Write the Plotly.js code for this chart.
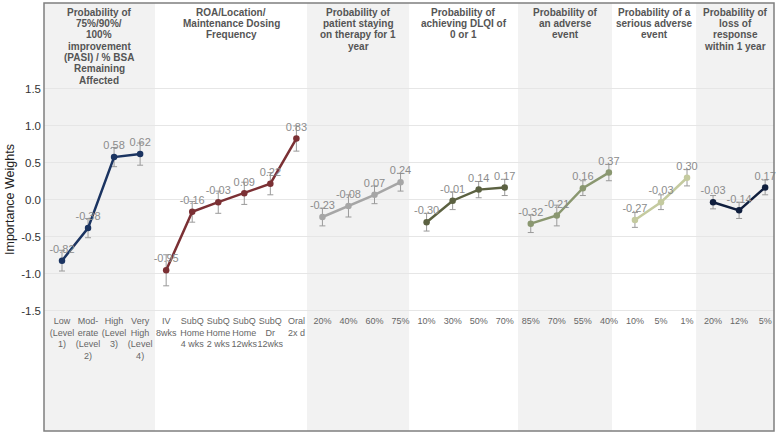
<!DOCTYPE html>
<html>
<head>
<meta charset="utf-8">
<script src="https://cdn.plot.ly/plotly-3.0.1.min.js"></script>
<style>html,body{margin:0;padding:0;background:#fff;}#chart{width:779px;height:433px;}</style>
</head>
<body>
<div id="chart"></div>
<script>
// ---------- data ----------
const headers = [
  ["Probability of", "75%/90%/", "100%", "improvement", "(PASI) / % BSA", "Remaining", "Affected"],
  ["ROA/Location/", "Maintenance Dosing", "Frequency"],
  ["Probability of", "patient staying", "on therapy for 1", "year"],
  ["Probability of", "achieving DLQI of", "0 or 1"],
  ["Probability of", "an adverse", "event"],
  ["Probability of a", "serious adverse", "event"],
  ["Probability of", "loss of", "response", "within 1 year"]
];
const labels1 = ["Low<br>(Level<br>1)", "Mod-<br>erate<br>(Level<br>2)", "High<br>(Level<br>3)", "Very<br>High<br>(Level<br>4)"];
const labels2 = ["IV<br>8wks", "SubQ<br>Home<br>4 wks", "SubQ<br>Home<br>2 wks", "SubQ<br>Home<br>12wks", "SubQ<br>Dr<br>12wks", "Oral<br>2x d"];
const labels3 = ["20%", "40%", "60%", "75%"];
const labels4 = ["10%", "30%", "50%", "70%"];
const labels5 = ["85%", "70%", "55%", "40%"];
const labels6 = ["10%", "5%", "1%"];
const labels7 = ["20%", "12%", "5%"];

const values1 = [-0.82, -0.38, 0.58, 0.62];
const values2 = [-0.95, -0.16, -0.03, 0.09, 0.22, 0.83];
const values3 = [-0.23, -0.08, 0.07, 0.24];
const values4 = [-0.30, -0.01, 0.14, 0.17];
const values5 = [-0.32, -0.21, 0.16, 0.37];
const values6 = [-0.27, -0.03, 0.30];
const values7 = [-0.03, -0.14, 0.17];

const errors1 = [0.14, 0.13, 0.13, 0.15];
const errors2 = [0.21, 0.14, 0.15, 0.15, 0.15, 0.17];
const errors3 = [0.12, 0.15, 0.12, 0.12];
const errors4 = [0.12, 0.12, 0.11, 0.11];
const errors5 = [0.12, 0.14, 0.10, 0.11];
const errors6 = [0.10, 0.10, 0.11];
const errors7 = [0.09, 0.11, 0.10];

const yTicks = [-1.5, -1.0, -0.5, 0.0, 0.5, 1.0, 1.5];

// ---------- styles / layout constants ----------
const colors = ["#1b3461", "#7b3034", "#a6a6a6", "#5b6141", "#8a9770", "#c4ca9f", "#0f1e3d"];
const groups = [
  [labels1, values1, errors1], [labels2, values2, errors2], [labels3, values3, errors3],
  [labels4, values4, errors4], [labels5, values5, errors5], [labels6, values6, errors6],
  [labels7, values7, errors7]
];
const W = 779, H = 433, ML = 44, MR = 5, MT = 3, MB = 2;
const plotH = H - MT - MB;
const py = p => (H - MB - p) / plotH;           // pixel y -> paper y
const xRange = [-0.691, 27.34];
const bandEdges = [xRange[0], 3.57, 9.41, 13.33, 17.51, 21.12, 24.35, xRange[1]];
const yRange = [-3.122, 2.662];
const FONT = "Liberation Sans, Arial, sans-serif";

const traces = [];
const tickvals = [], ticktext = [];
let idx = 0;
groups.forEach((g, gi) => {
  const [lab, val, err] = g;
  const xs = val.map((_, i) => idx + i);
  lab.forEach((l, i) => { tickvals.push(idx + i); ticktext.push(l); });
  traces.push({
    type: "scatter", mode: "lines+markers+text",
    x: xs, y: val,
    text: val.map(v => v.toFixed(2)),
    textposition: "top center",
    textfont: {family: FONT, size: 11, color: "#8c8c8c"},
    line: {color: colors[gi], width: 2.5},
    marker: {color: colors[gi], size: 6.5},
    error_y: {type: "data", array: err, visible: true, color: "#9a9a9a", thickness: 1, width: 3},
    hoverinfo: "skip", showlegend: false, cliponaxis: false
  });
  idx += val.length;
});

const shapes = [];
for (let i = 0; i < 7; i += 2) {
  shapes.push({type: "rect", layer: "below", xref: "x", yref: "paper",
    x0: bandEdges[i], x1: bandEdges[i + 1], y0: 0, y1: 1,
    fillcolor: "#f2f2f2", line: {width: 0}});
}
shapes.push({type: "rect", layer: "above", xref: "paper", yref: "paper",
  x0: 0, x1: 1, y0: 0, y1: 1, fillcolor: "rgba(0,0,0,0)", line: {color: "#7f7f7f", width: 1.5}});

const annotations = [];
headers.forEach((lines, gi) => {
  const cx = (bandEdges[gi] + bandEdges[gi + 1]) / 2;
  lines.forEach((t, li) => {
    annotations.push({xref: "x", yref: "paper", x: cx, y: py(12 + 11.4 * li),
      xanchor: "center", yanchor: "middle", showarrow: false, text: "<b>" + t + "</b>",
      font: {family: FONT, size: 10, color: "#555"}});
  });
});
annotations.push({xref: "paper", yref: "paper", x: (10 - ML) / (W - ML - MR), y: py(200),
  xanchor: "center", yanchor: "middle", textangle: -90, showarrow: false,
  text: "Importance Weights", font: {family: FONT, size: 12.5, color: "#222"}});

const layout = {
  width: W, height: H,
  margin: {l: ML, r: MR, t: MT, b: MB, pad: 0},
  paper_bgcolor: "#fff", plot_bgcolor: "rgba(0,0,0,0)",
  showlegend: false,
  xaxis: {range: xRange, anchor: "free", position: py(311), tickmode: "array",
    tickvals: tickvals, ticktext: ticktext, tickangle: 0, showgrid: false, zeroline: false, showline: false,
    ticks: "", ticklabelstandoff: 3, tickfont: {family: FONT, size: 9, color: "#666"},
    fixedrange: true},
  yaxis: {range: yRange, tickmode: "array", tickvals: yTicks,
    ticktext: yTicks.map(v => v.toFixed(1)), showgrid: true, gridcolor: "#e6e6e6", gridwidth: 1,
    zeroline: false, showline: false, ticks: "", ticklabelstandoff: 2,
    tickfont: {family: FONT, size: 11.5, color: "#333"}, fixedrange: true},
  shapes: shapes,
  annotations: annotations
};

Plotly.newPlot("chart", traces, layout, {displayModeBar: false, staticPlot: true});
</script>
</body>
</html>
